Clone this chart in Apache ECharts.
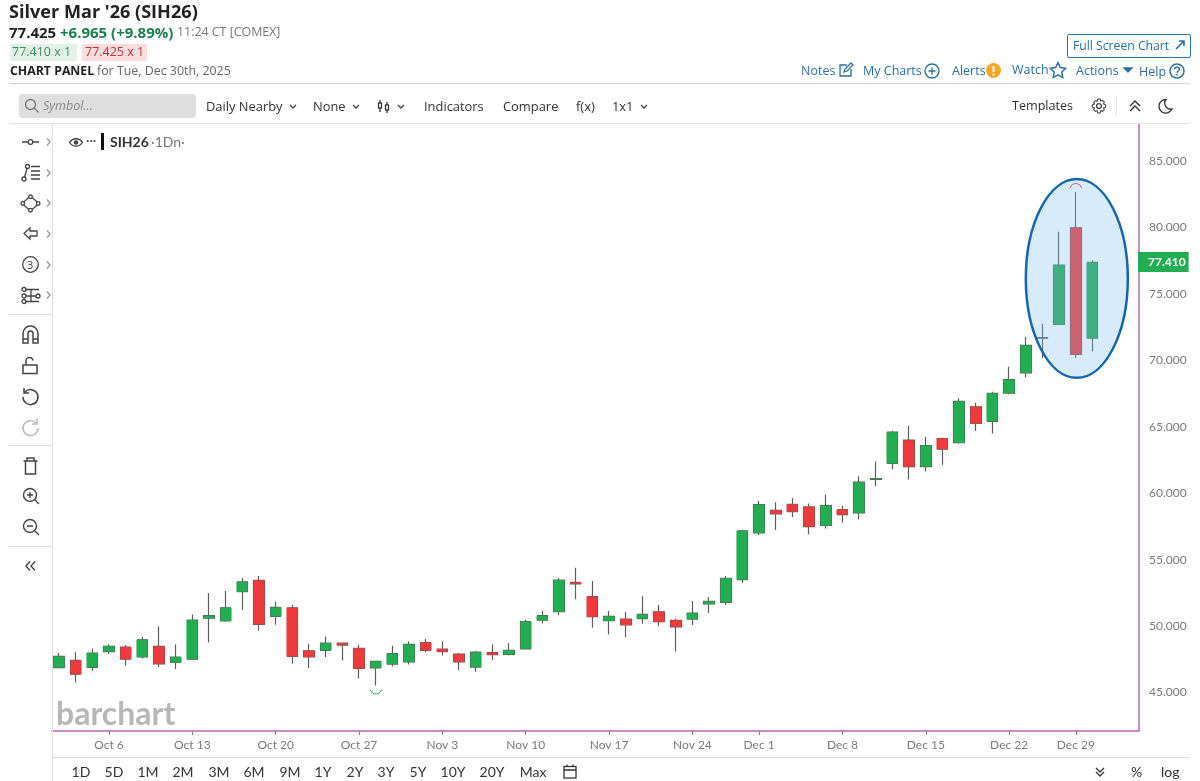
<!DOCTYPE html>
<html><head><meta charset="utf-8"><title>Silver Mar '26 (SIH26)</title>
<script src="https://cdn.jsdelivr.net/npm/echarts@6/dist/echarts.min.js"></script>
<style>
html,body{margin:0;padding:0;background:#fff;width:1200px;height:781px;overflow:hidden}
#chart{position:absolute;left:0;top:0;width:1200px;height:781px}
.t{position:absolute;white-space:nowrap;font-family:"Open Sans",sans-serif;line-height:1;z-index:5}
.l{font-family:Lato,sans-serif}
.r{position:absolute;z-index:5}
svg.i{position:absolute;z-index:5;fill:none;stroke:#444;stroke-width:1.3;overflow:visible}
</style></head><body>
<div id="chart"></div>
<div id="ui"></div>
<script>
const dates = ['Oct 1','Oct 2','Oct 3','Oct 6','Oct 7','Oct 8','Oct 9','Oct 10','Oct 13','Oct 14','Oct 15','Oct 16','Oct 17','Oct 20','Oct 21','Oct 22','Oct 23','Oct 24','Oct 27','Oct 28','Oct 29','Oct 30','Oct 31','Nov 3','Nov 4','Nov 5','Nov 6','Nov 7','Nov 10','Nov 11','Nov 12','Nov 13','Nov 14','Nov 17','Nov 18','Nov 19','Nov 20','Nov 21','Nov 24','Nov 25','Nov 26','Nov 28','Dec 1','Dec 2','Dec 3','Dec 4','Dec 5','Dec 8','Dec 9','Dec 10','Dec 11','Dec 12','Dec 15','Dec 16','Dec 17','Dec 18','Dec 19','Dec 22','Dec 23','Dec 24','Dec 26','Dec 29','Dec 30'];
const opens = [46.87,47.41,46.89,48.07,48.42,47.67,48.47,47.26,47.51,50.60,50.38,52.59,53.44,50.73,51.38,48.14,48.17,48.72,48.32,46.86,47.14,47.31,48.75,48.27,47.89,46.91,48.00,47.87,48.29,50.45,51.08,53.29,52.21,50.40,50.53,50.56,51.08,50.43,50.53,51.66,51.79,53.50,57.01,58.72,59.17,58.97,57.57,58.77,58.52,61.05,62.24,64.00,62.01,64.12,63.80,66.51,65.41,67.54,69.07,71.68,72.71,79.99,71.68];
const closes = [47.72,46.38,47.97,48.47,47.51,48.97,47.16,47.67,50.45,50.78,51.38,53.32,50.13,51.41,47.72,47.67,48.72,48.57,46.81,47.34,47.92,48.62,48.17,48.07,47.31,48.04,47.84,48.17,50.33,50.78,53.47,53.17,50.70,50.73,50.08,50.88,50.33,49.93,50.98,51.86,53.60,57.16,59.15,58.44,58.62,57.49,59.07,58.39,60.83,61.11,64.60,62.01,63.59,63.32,66.91,65.25,67.52,68.56,71.13,71.71,77.18,70.45,77.38];
const lows = [46.80,45.76,46.61,47.89,47.04,47.56,46.91,46.74,47.46,48.77,50.33,51.21,49.67,50.10,47.16,46.84,47.67,47.41,46.06,45.53,46.96,47.11,48.04,47.79,46.69,46.56,47.44,47.79,48.27,50.20,50.81,52.01,49.88,49.37,49.15,50.18,49.98,48.10,50.08,50.98,51.59,53.24,56.86,57.24,58.22,56.89,57.34,57.79,58.04,60.55,61.79,61.03,61.63,62.14,63.72,64.68,64.50,67.46,68.74,70.17,72.71,70.20,70.67];
const highs = [47.97,48.02,48.32,48.64,48.57,49.17,49.98,48.62,50.88,52.49,52.64,53.62,53.77,51.83,51.61,48.67,49.22,48.75,48.57,47.39,48.52,48.85,49.02,48.85,47.97,48.12,48.64,48.72,50.45,51.16,53.62,54.40,53.39,51.13,51.06,52.24,51.59,50.56,51.89,52.19,53.77,57.26,59.42,59.32,59.65,59.22,59.90,59.05,61.28,62.39,64.70,65.08,64.25,64.17,67.16,66.81,67.64,69.52,71.78,72.76,79.69,82.68,77.53];
const xTickLabels = ['Oct 6','Oct 13','Oct 20','Oct 27','Nov 3','Nov 10','Nov 17','Nov 24','Dec 1','Dec 8','Dec 15','Dec 22','Dec 29'];
const yTicks = [45,50,55,60,65,70,75,80,85];
const lastPrice = 77.41;
const highlightEllipse = [[61.06,76.17,3.06,7.48]];
const lowMarkerDay = 'Oct 28';
const highMarkerDay = 'Dec 29';

const AXIS = '#bd66b0', GREEN = '#22ad52', RED = '#ee3a3d';
const idx = dates.map((d,i)=>i);
const fullData = idx.map(i=>[i,opens[i],closes[i],lows[i],highs[i]]);
const bodyData = idx.map(i=>[i,opens[i],closes[i],Math.min(opens[i],closes[i]),Math.max(opens[i],closes[i])]);
const xTickIdx = xTickLabels.map(l=>dates.indexOf(l));
const lowI = dates.indexOf(lowMarkerDay), highI = dates.indexOf(highMarkerDay);

const chart = echarts.init(document.getElementById('chart'));
chart.setOption({
  animation:false,
  backgroundColor:'#fff',
  grid:{left:52,right:61,top:124,bottom:50},
  tooltip:{show:false},
  xAxis:{type:'value',min:-0.42,max:64.79,
    axisLine:{show:true,onZero:false,lineStyle:{color:AXIS,width:1.5}},
    axisTick:{show:true,length:4,customValues:xTickIdx,lineStyle:{color:'#a06a9c'}},
    axisLabel:{show:true,margin:8,customValues:xTickIdx,color:'#7a7a7a',fontFamily:'Lato',fontSize:12,formatter:v=>dates[v]},
    splitLine:{show:false}},
  yAxis:{type:'value',position:'right',min:42.1,max:87.8,
    axisLine:{show:true,onZero:false,lineStyle:{color:AXIS,width:1.5}},
    axisTick:{show:false},
    axisLabel:{show:true,margin:10,customValues:yTicks,color:'#7a7a7a',fontFamily:'Lato',fontSize:12,formatter:v=>v.toFixed(3)},
    splitLine:{show:false}},
  series:[
    {name:'SIH26 wicks',type:'candlestick',data:fullData,encode:{x:0,y:[1,2,3,4]},barWidth:11,z:2,
      itemStyle:{color:'#5f5f5f',color0:'#5f5f5f',borderColor:'#5f5f5f',borderColor0:'#5f5f5f',borderWidth:1.2},
      markLine:{silent:true,symbol:'none',animation:false,z:7,data:[{yAxis:lastPrice}],lineStyle:{width:1,color:'rgba(0,0,0,0)'},
        label:{show:true,position:'end',distance:-1,formatter:()=>lastPrice.toFixed(3),color:'#fff',fontFamily:'Lato',fontWeight:'bold',fontSize:12,backgroundColor:GREEN,padding:[4,3,4,10]}}},
    {name:'SIH26',type:'candlestick',data:bodyData,encode:{x:0,y:[1,2,3,4]},barWidth:11.5,z:3,
      itemStyle:{color:GREEN,color0:RED,borderColor:GREEN,borderColor0:RED,borderWidth:0}},
    {name:'Low marker',type:'custom',z:4,data:[[lowI,lows[lowI]]],silent:true,
      renderItem:(p,api)=>{const c=api.coord([api.value(0),api.value(1)]);
        return {type:'arc',shape:{cx:c[0],cy:c[1]+2.5,r:6,startAngle:0.25,endAngle:Math.PI-0.25,clockwise:true},style:{stroke:GREEN,fill:'none',lineWidth:1}};}},
    {name:'High marker',type:'custom',z:4,data:[[highI,highs[highI]]],silent:true,
      renderItem:(p,api)=>{const c=api.coord([api.value(0),api.value(1)]);
        return {type:'arc',shape:{cx:c[0],cy:c[1]-2.5,r:6,startAngle:Math.PI+0.25,endAngle:2*Math.PI-0.25,clockwise:true},style:{stroke:RED,fill:'none',lineWidth:1}};}},
    {name:'Highlight',type:'custom',z:6,data:highlightEllipse,silent:true,
      renderItem:(p,api)=>{const c=api.coord([api.value(0),api.value(1)]),s=api.size([api.value(2),api.value(3)]);
        return {type:'ellipse',shape:{cx:c[0],cy:c[1],rx:s[0],ry:s[1]},style:{fill:'rgba(125,190,240,0.3)',stroke:'#1565b0',lineWidth:2.5}};}}
  ]
});

/* page chrome around the chart */
const ui=document.getElementById('ui');
function T(txt,x,y,st,cls){const e=document.createElement('div');e.className='t '+(cls||'');e.style.cssText=`left:${x}px;top:${y}px;`+(st||'');e.innerHTML=txt;ui.appendChild(e);return e;}
function R(x,y,w,h,st){const e=document.createElement('div');e.className='r';e.style.cssText=`left:${x}px;top:${y}px;width:${w}px;height:${h}px;`+(st||'');ui.appendChild(e);return e;}
function I(x,y,w,h,body,st){ui.insertAdjacentHTML('beforeend',`<svg class="i" style="left:${x}px;top:${y}px;${st||''}" width="${w}" height="${h}" viewBox="0 0 ${w} ${h}">${body}</svg>`);}

T("Silver Mar '26 (SIH26)",9,2,'font-size:18.1px;font-weight:700;color:#222');
T('77.425',9,25,'font-size:15px;font-weight:700;color:#222');
T('+6.965 (+9.89%)',60,25,'font-size:15px;font-weight:700;color:#1f7d4d');
T('11:24 CT [COMEX]',177,26,'font-size:12.4px;color:#777');
R(10,44,67,17,'background:#e4f1e9;border-radius:2px');
R(82,44,65,17,'background:#f9dcdc;border-radius:2px');
T('77.410 x 1',12,46,'font-size:12.5px;color:#3f8f63');
T('77.425 x 1',85,46,'font-size:12.5px;color:#c4323d');
T('CHART PANEL',10,65,'font-size:12.3px;font-weight:700;color:#222');
T('for Tue, Dec 30th, 2025',97,65,'font-size:12.4px;color:#666');
R(9,83,1181,1,'background:#d4d4d4');
R(1067,34,122,22,'border:1px solid #2d78a8;border-radius:2px');
T('Full Screen Chart',1073,40,'font-size:12.2px;color:#2b6ea3');
I(1175,40,10,10,'<path d="M1 9L8.5 1.5M4 1H9V6" stroke="#2b6ea3" stroke-width="1.6"/>');
const blue='#2b6ea3';
T('Notes',801,65,`font-size:12.5px;color:${blue}`);
I(838,62,16,16,`<path d="M13 7V14H2V3H9M6 10L7 7L13 1L15 3L9 9Z" stroke="${blue}"/>`);
T('My Charts',863,65,`font-size:12.5px;color:${blue}`);
I(924,63,16,16,`<circle cx="8" cy="8" r="7" stroke="${blue}"/><path d="M4.5 8H11.5M8 4.5V11.5" stroke="${blue}"/>`);
T('Alerts',952,65,`font-size:12.5px;color:${blue}`);
I(986,63,15,15,'<circle cx="7.5" cy="7.5" r="7.5" fill="#f5a623" stroke="none"/><path d="M7.5 3V9M7.5 10.5V12.5" stroke="#fff" stroke-width="2"/>');
T('Watch',1012,64,`font-size:12.5px;color:${blue}`);
I(1049,61,18,18,`<path d="M9 1.5L11.3 6.5L16.8 7.2L12.8 11L13.8 16.5L9 13.8L4.2 16.5L5.2 11L1.2 7.2L6.7 6.5Z" stroke="${blue}" stroke-width="1.4"/>`);
T('Actions',1076,65,`font-size:12.5px;color:${blue}`);
I(1123,67,10,6,`<path d="M1 1H9L5 5Z" fill="${blue}" stroke="${blue}"/>`);
T('Help',1139,66,`font-size:12.5px;color:${blue}`);
I(1169,63,16,16,`<circle cx="8" cy="8" r="7" stroke="${blue}" stroke-width="1.5"/><path d="M5.6 6.2C5.8 3.6 10.4 3.6 10.4 6.2C10.4 8 8 8 8 9.8M8 11V12.6" stroke="${blue}" stroke-width="1.5"/>`);

R(19,94,177,24,'background:#dedede;border-radius:4px');
I(24,98,16,16,'<circle cx="6.5" cy="6.5" r="5" stroke="#777"/><path d="M10 10L14.5 14.5" stroke="#777"/>');
T('Symbol...',43,100,'font-size:12.5px;font-style:italic;color:#8a8a8a');
const tb='font-size:12.9px;color:#333';
const chev=(x)=>I(x,104,8,5,'<path d="M1 1L4 4L7 1" stroke="#444"/>');
T('Daily Nearby',206,100,tb);chev(289);
T('None',313,100,tb);chev(352);
I(377,100,14,13,'<path d="M3 0V12M10 2V13" stroke="#333"/><rect x="1.5" y="3" width="3" height="5" fill="#fff" stroke="#333"/><rect x="8.5" y="5" width="3" height="5" fill="#fff" stroke="#333"/>');
chev(397);
T('Indicators',424,100,tb);
T('Compare',503,100,tb);
T('f(x)',576,100,tb);
T('1x1',612,100,tb);chev(640);
T('Templates',1012,100,'font-size:12.6px;color:#333');
I(1091,98,16,16,'<circle cx="8" cy="8" r="2.4" stroke="#444"/><path d="M6.8 1H9.2L9.7 3L11.4 2.4L13.3 4.2L12.4 5.9L14.6 6.8V9.2L12.5 9.9L13.3 11.7L11.6 13.4L9.8 12.6L9.2 15H6.8L6.2 12.7L4.4 13.4L2.7 11.7L3.5 9.9L1.4 9.2V6.8L3.5 6L2.7 4.3L4.4 2.6L6.2 3.2Z" stroke="#444" stroke-width="1.1"/>');
R(1116,97,1,18,'background:#e2e2e2');
I(1129,100,12,12,'<path d="M1 6L6 1L11 6M1 11L6 6L11 11" stroke="#333" stroke-width="1.4"/>');
I(1157,98,16,16,'<path d="M9 1.5A6.8 6.8 0 1 0 15 11A6 6 0 0 1 9 1.5Z" stroke="#333" stroke-width="1.3"/>');
R(9,123,1181,1,'background:#e2e2e2');
R(52,124,1,657,'background:#e0e0e0');
R(52,757,1138,1,'background:#dcdcdc');

/* drawing tools */
const g='#444';
I(22,137,17,10,`<path d="M0 5H6M11 5H17" stroke="${g}"/><circle cx="8.5" cy="5" r="2.3" stroke="${g}"/>`);
I(21,164,20,18,`<circle cx="3" cy="15" r="2" stroke="${g}"/><circle cx="6.5" cy="2.5" r="2" stroke="${g}"/><path d="M3.6 13L6 4.5M10 2.5H19M10 7H19M10 11H19M10 15H19" stroke="${g}"/>`);
I(21,195,19,17,`<path d="M1 8.5L9.5 1L18 8.5L9.5 16Z" stroke="${g}"/><circle cx="9.5" cy="1.8" r="1.8" fill="#fff" stroke="${g}"/><circle cx="1.8" cy="8.5" r="1.8" fill="#fff" stroke="${g}"/><circle cx="17.2" cy="8.5" r="1.8" fill="#fff" stroke="${g}"/><circle cx="9.5" cy="15.2" r="1.8" fill="#fff" stroke="${g}"/>`);
I(23,227,15,13,`<path d="M7 1L1 6.5L7 12V9H14V4H7Z" stroke="${g}"/>`);
I(22,256,17,17,`<circle cx="8.5" cy="8.5" r="7.8" stroke="${g}"/>`);
T('3',27,259,'font-size:11px;color:#444');
I(21,287,20,17,`<circle cx="3" cy="2.5" r="2" stroke="${g}"/><circle cx="3" cy="9" r="2" stroke="${g}"/><circle cx="3" cy="14.5" r="2" stroke="${g}"/><circle cx="17" cy="9" r="2" stroke="${g}"/><path d="M5 2.5H18M5 9H15M5 14.5H18M10 3V14" stroke="${g}"/>`);
[142,173,203,234,265,295].forEach(y=>I(46,y-4,5,8,'<path d="M1 0.5L4 4L1 7.5" stroke="#999"/>'));
R(9,314,43,1,'background:#dedede');
I(22,325,17,19,`<path d="M1 18V8.5A7.5 7.5 0 0 1 16 8.5V18H11V8.5A2.5 2.5 0 0 0 6 8.5V18ZM1 14H6M11 14H16" stroke="${g}" stroke-width="1.5"/>`);
I(22,357,16,17,`<rect x="1" y="8" width="14" height="8.5" stroke="${g}" stroke-width="1.5"/><path d="M4 8V4.5A3.5 3.5 0 0 1 11 3.5" stroke="${g}" stroke-width="1.5"/>`);
I(21,387,18,18,`<path d="M4 5A7.5 7.5 0 1 1 2 10M3 1V6H8" stroke="${g}" stroke-width="1.5"/>`);
I(22,418,18,17,`<path d="M14 5A7.5 7.5 0 1 0 16 10M15 1V6H10" stroke="#bbb" stroke-width="1.5"/>`);
R(9,445,43,1,'background:#dedede');
I(23,457,15,18,`<path d="M0.5 4H14.5M4 4V1H11V4M2.5 4V17H12.5V4" stroke="${g}" stroke-width="1.5"/>`);
I(22,487,18,18,`<circle cx="8" cy="8" r="6.5" stroke="${g}" stroke-width="1.4"/><path d="M13 13L17 17M5 8H11M8 5V11" stroke="${g}" stroke-width="1.4"/>`);
I(22,518,18,18,`<circle cx="8" cy="8" r="6.5" stroke="${g}" stroke-width="1.4"/><path d="M13 13L17 17M5 8H11" stroke="${g}" stroke-width="1.4"/>`);
R(9,546,43,1,'background:#dedede');
I(25,561,11,10,`<path d="M5 0.5L1 5L5 9.5M10 0.5L6 5L10 9.5" stroke="${g}" stroke-width="1.4"/>`);

/* series legend */
I(69,138,14,9,'<path d="M0.5 4.5C4 -0.5 10 -0.5 13.5 4.5C10 9.5 4 9.5 0.5 4.5Z" stroke="#444"/><circle cx="7" cy="4.5" r="2.3" fill="#444" stroke="none"/>');
T('···',86,135,'font-size:12px;color:#444;font-weight:700');
R(101,133,3,17,'background:#111');
T('SIH26',110,135,'font-size:14px;font-weight:700;color:#333','l');
T('·1Dn·',151,135,'font-size:14px;color:#777','l');

/* watermark */
T('barchart',56,697,'font-size:32px;font-weight:700;color:#b7b7b7','l');

/* range buttons */
[['1D',81],['5D',114],['1M',148],['2M',183],['3M',219],['6M',254],['9M',290],['1Y',323],['2Y',355],['3Y',386],['5Y',418],['10Y',453],['20Y',492],['Max',533]].forEach(([s,x])=>{
  const e=T(s,x,765,'font-size:14px;color:#333;transform:translateX(-50%)','l');
});
I(563,764,14,15,'<rect x="1" y="2.5" width="12" height="11.5" stroke="#333"/><path d="M1 6H13M4 0.5V3M10 0.5V3" stroke="#333"/>');
I(1095,767,10,10,'<path d="M1 1L5 5L9 1M1 5L5 9L9 5" stroke="#333" stroke-width="1.3"/>');
T('%',1131,765,'font-size:14px;color:#333','l');
T('log',1161,765,'font-size:14px;color:#333','l');
</script>
</body></html>
